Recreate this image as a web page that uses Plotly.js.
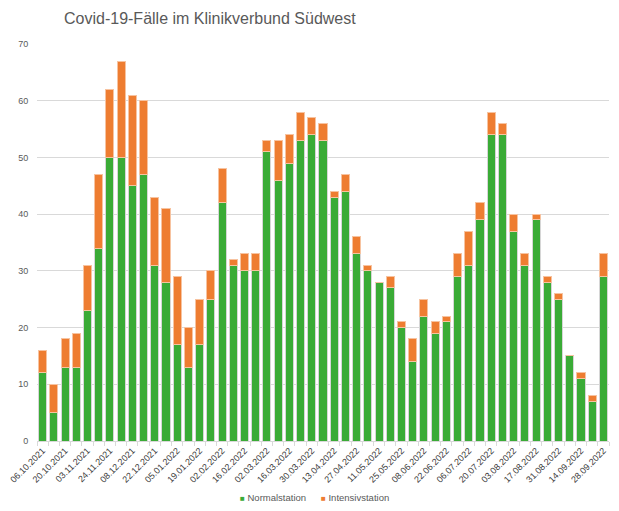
<!DOCTYPE html>
<html>
<head>
<meta charset="utf-8">
<script src="https://cdn.plot.ly/plotly-3.0.1.min.js"></script>
<style>html,body{margin:0;padding:0;background:#fff;}#chart{width:619px;height:511px;}</style>
</head>
<body>
<div id="chart"></div>
<script>
const weeks = ["06.10.2021","13.10.2021","20.10.2021","27.10.2021","03.11.2021","10.11.2021","24.11.2021","01.12.2021","08.12.2021","15.12.2021","22.12.2021","29.12.2021","05.01.2022","12.01.2022","19.01.2022","26.01.2022","02.02.2022","09.02.2022","16.02.2022","23.02.2022","02.03.2022","09.03.2022","16.03.2022","23.03.2022","30.03.2022","06.04.2022","13.04.2022","20.04.2022","27.04.2022","04.05.2022","11.05.2022","18.05.2022","25.05.2022","01.06.2022","08.06.2022","15.06.2022","22.06.2022","29.06.2022","06.07.2022","13.07.2022","20.07.2022","27.07.2022","03.08.2022","10.08.2022","17.08.2022","24.08.2022","31.08.2022","07.09.2022","14.09.2022","21.09.2022","28.09.2022"];
const normalstation = [12,5,13,13,23,34,50,50,45,47,31,28,17,13,17,25,42,31,30,30,51,46,49,53,54,53,43,44,33,30,28,27,20,14,22,19,21,29,31,39,54,54,37,31,39,28,25,15,11,7,29];
const intensivstation = [4,5,5,6,8,13,12,17,16,13,12,13,12,7,8,5,6,1,3,3,2,7,5,5,3,3,1,3,3,1,0,2,1,4,3,2,1,4,6,3,4,2,3,2,1,1,1,0,1,1,4];
const seriesNames = ["Normalstation","Intensivstation"];
const seriesColors = ["#3aab36","#ee7d31"];

const tickText = weeks.map((w, i) => (i % 2 === 0 ? w : ""));

const data = [
  {type:"bar", name:seriesNames[0], x:weeks, y:normalstation, showlegend:false,
   marker:{color:seriesColors[0], line:{color:"#d6d6d6", width:1}}},
  {type:"bar", name:seriesNames[1], x:weeks, y:intensivstation, showlegend:false,
   marker:{color:seriesColors[1], line:{color:"#f7c3a0", width:1}}}
];

const legendX = [273/619, 355/619];
const annotations = seriesNames.map((n, i) => ({
  text:'<span style="color:' + seriesColors[i] + ';font-size:8px">■</span> ' + n,
  xref:"paper", yref:"paper", x:(legendX[i]*619-37)/572, y:-(497-441)/396.3,
  xanchor:"center", yanchor:"middle", showarrow:false,
  font:{size:9.5, color:"#595959", family:"Liberation Sans, Arial, sans-serif"}
}));

const layout = {
  width:619, height:511,
  barmode:"stack", bargap:0.28,
  margin:{l:37, r:10, t:44, b:70},
  paper_bgcolor:"#fff", plot_bgcolor:"#fff",
  font:{family:"Liberation Sans, Arial, sans-serif", color:"#595959", size:9},
  title:{text:"Covid-19-Fälle im Klinikverbund Südwest", x:64/619, xref:"container", xanchor:"left",
         y:1-18/511, yref:"container", yanchor:"middle",
         font:{size:16, color:"#595959", family:"Liberation Sans, Arial, sans-serif"}},
  xaxis:{type:"category", tickmode:"array", tickvals:weeks, ticktext:tickText,
         tickangle:-45, tickson:"boundaries", ticks:"outside", ticklen:4, tickcolor:"#d9d9d9",
         showline:true, linecolor:"#d9d9d9", linewidth:1, showgrid:false,
         tickfont:{size:9, color:"#404040"}, automargin:false},
  yaxis:{range:[0,70], dtick:10, showgrid:true, gridcolor:"#d9d9d9", gridwidth:1,
         zeroline:false, showline:false, ticks:"outside", ticklen:6, tickcolor:"rgba(0,0,0,0)",
         tickfont:{size:9, color:"#595959"}, automargin:false},
  showlegend:false,
  annotations:annotations
};

Plotly.newPlot("chart", data, layout, {displayModeBar:false, staticPlot:true});
</script>
</body>
</html>
